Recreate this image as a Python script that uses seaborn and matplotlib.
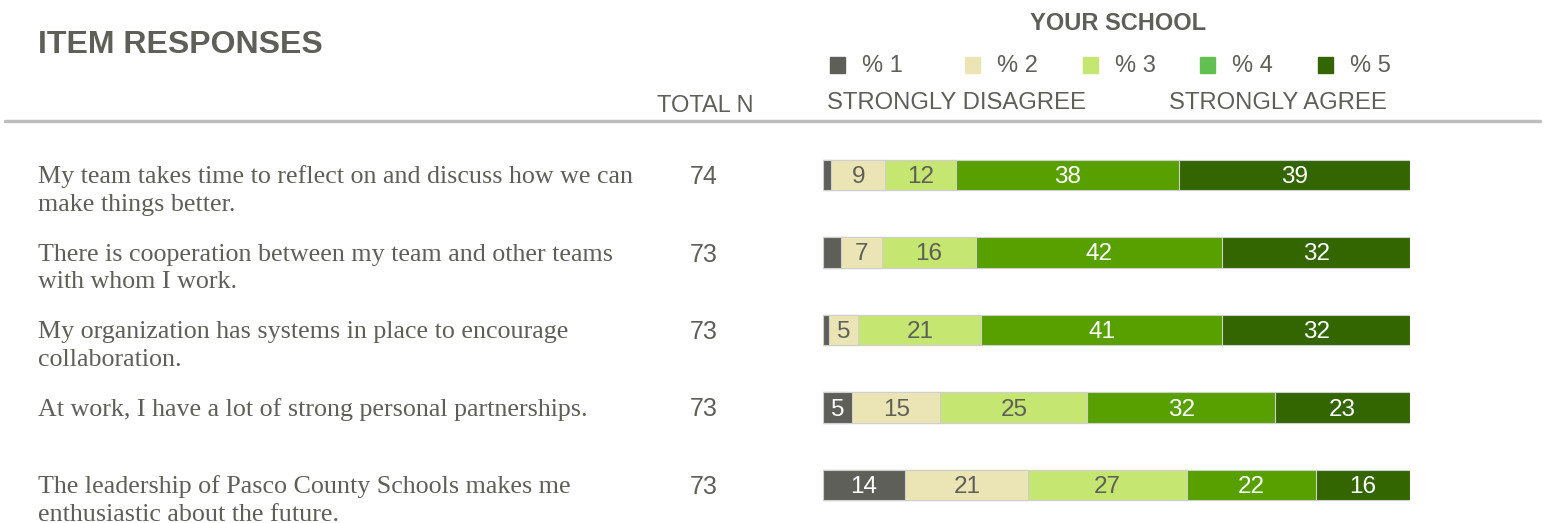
import numpy as np
import pandas as pd
import matplotlib
matplotlib.use("Agg")
import matplotlib.pyplot as plt
import matplotlib.transforms as mtransforms
from matplotlib.patches import Rectangle
from matplotlib.lines import Line2D
import seaborn as sns

# data
items = [
    "My team takes time to reflect on and discuss how we can\nmake things better.",
    "There is cooperation between my team and other teams\nwith whom I work.",
    "My organization has systems in place to encourage\ncollaboration.",
    "At work, I have a lot of strong personal partnerships.",
    "The leadership of Pasco County Schools makes me\nenthusiastic about the future.",
]
total_n = [74, 73, 73, 73, 73]
pct_1 = [1.4, 3, 1, 5, 14]
pct_2 = [9.2, 7, 5, 15, 21]
pct_3 = [12, 16, 21, 25, 27]
pct_4 = [38, 42, 41, 32, 22]
pct_5 = [39.4, 32, 32, 23, 16]
series_names = ["% 1", "% 2", "% 3", "% 4", "% 5"]

bar_colors = ["#5f5f59", "#ebe5b5", "#c5e670", "#58a000", "#336600"]
legend_colors = ["#5f5f59", "#ebe5b5", "#c5e670", "#62c050", "#336600"]
label_colors = ["white", "#5f5f59", "#5f5f59", "white", "white"]
GRAY = "#5f5f59"

W, H = 1544, 523
sns.set_theme(style="white")
plt.rcParams["font.family"] = ["Liberation Sans", "DejaVu Sans"]

fig = plt.figure(figsize=(W / 100, H / 100), dpi=100)


def fx(px):
    return px / W


def fy(py):
    return 1 - py / H


# bar axes: x from 823 to 1410 px, rows centred at 175..485 px
ax = fig.add_axes([fx(823), fy(523), fx(1410) - fx(823), (523 - 136) / H])

df = pd.DataFrame({"row": [f"r{i}" for i in range(len(items))],
                   "p1": pct_1, "p2": pct_2, "p3": pct_3, "p4": pct_4, "p5": pct_5})
cols = ["p1", "p2", "p3", "p4", "p5"]
cum = df[cols].cumsum(axis=1)

# stacked bars: draw cumulative totals from longest to shortest
for k in reversed(range(5)):
    sns.barplot(x=cum[cols[k]], y=df["row"], orient="h", color=bar_colors[k],
                width=0.39, edgecolor="#cfcfcf", linewidth=0.8, ax=ax,
                saturation=1)

row_gap = 77.5
nudge = 2 / row_gap  # text sits a touch lower than the bbox centre
ax.set_xlim(0, 100)
ax.set_ylim(4 + (523 - 485) / row_gap, -(175 - 136) / row_gap)
ax.axis("off")

# segment labels
for i in range(len(items)):
    left = 0
    for k, c in enumerate(cols):
        v = df.loc[i, c]
        if v >= 4.5:
            ax.text(left + v / 2, i + nudge, f"{v:.0f}", ha="center",
                    va="center", fontsize=17.5, color=label_colors[k])
        left += v

# item text and totals, tied to the row positions
trans = mtransforms.blended_transform_factory(fig.transFigure, ax.transData)
for i, (txt, n) in enumerate(zip(items, total_n)):
    for j, line in enumerate(txt.split("\n")):
        ax.text(fx(38), i + nudge + j * 28 / row_gap, line, transform=trans,
                ha="left", va="center", fontsize=18.7, color=GRAY,
                family=["Liberation Serif", "DejaVu Serif"])
    ax.text(fx(704), i + nudge, str(n), transform=trans, ha="center",
            va="center", fontsize=18, color=GRAY)

# header
fig.text(fx(38), fy(45), "ITEM RESPONSES", fontsize=23, fontweight="bold",
         color=GRAY, ha="left", va="center")
fig.text(fx(1118), fy(23), "YOUR SCHOOL", fontsize=17, fontweight="bold",
         color=GRAY, ha="center", va="center")
fig.text(fx(705), fy(106), "TOTAL N", fontsize=17, color=GRAY,
         ha="center", va="center")
fig.text(fx(827), fy(103), "STRONGLY DISAGREE", fontsize=17.2, color=GRAY,
         ha="left", va="center")
fig.text(fx(1387), fy(103), "STRONGLY AGREE", fontsize=17.2, color=GRAY,
         ha="right", va="center")

# legend
leg_x = [830, 965, 1083, 1200, 1318]
for name, c, x in zip(series_names, legend_colors, leg_x):
    fig.add_artist(Rectangle((fx(x), fy(73)), 15 / W, 16 / H, color=c,
                             transform=fig.transFigure))
    fig.text(fx(x + 32), fy(66), name, fontsize=17, color=GRAY,
             ha="left", va="center")

# separator line under the header
fig.add_artist(Line2D([fx(5), fx(1540)], [fy(121), fy(121)], color="#bdbdbd",
                      linewidth=2.5, transform=fig.transFigure))

fig.savefig("out.png", dpi=100, facecolor="white")
